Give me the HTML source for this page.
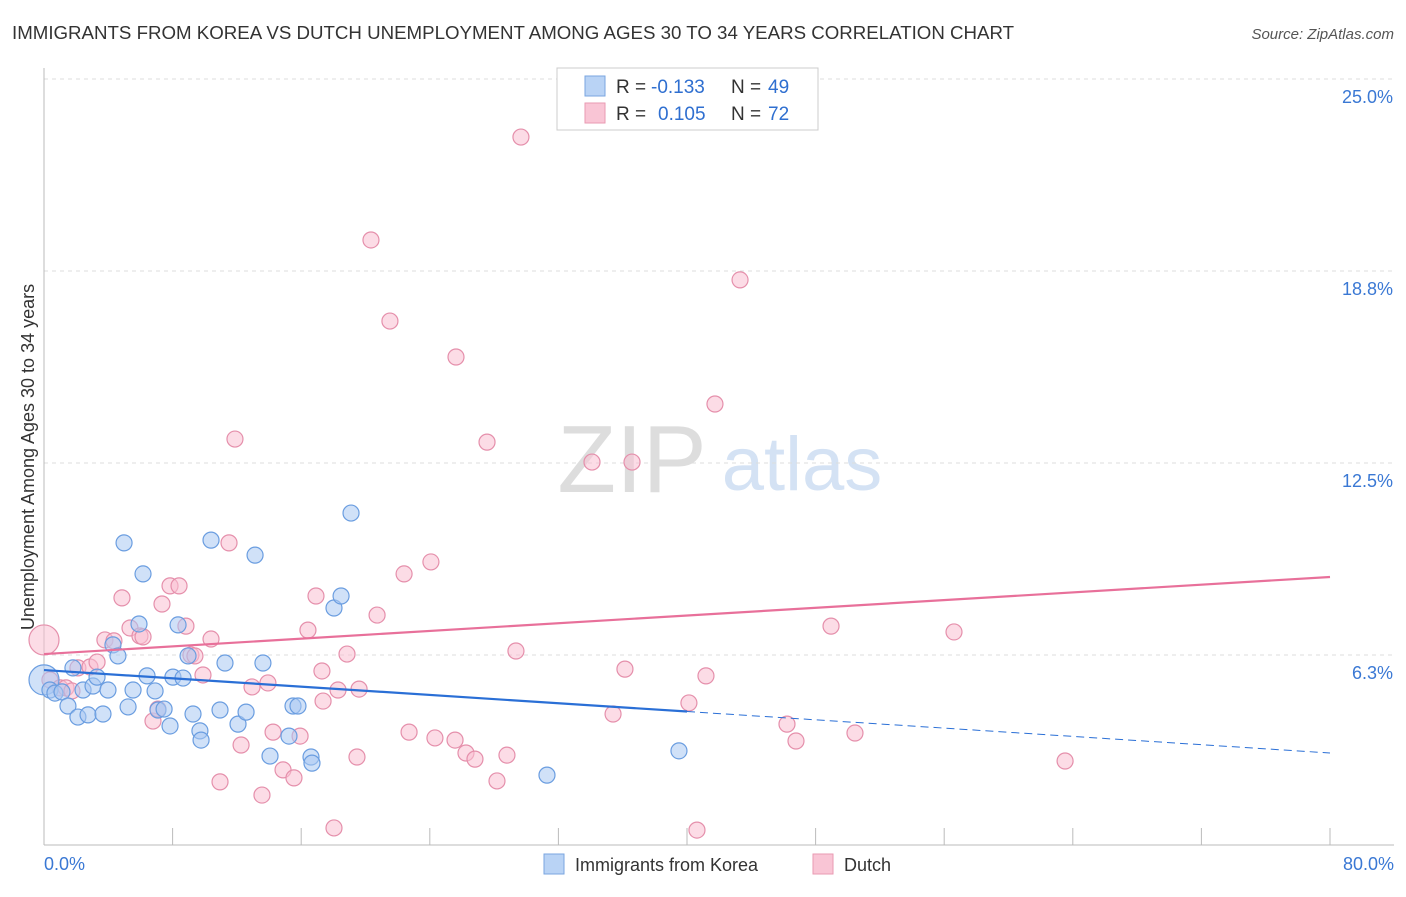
<!DOCTYPE html>
<html><head><meta charset="utf-8"><style>
body{margin:0;background:#fff;font-family:"Liberation Sans",sans-serif}
svg text{font-family:"Liberation Sans",sans-serif}
</style></head><body>
<svg id="chart" width="1406" height="892">
<text x="12" y="39" font-size="18.7" fill="#333">IMMIGRANTS FROM KOREA VS DUTCH UNEMPLOYMENT AMONG AGES 30 TO 34 YEARS CORRELATION CHART</text>
<text x="1394" y="39" font-size="15" fill="#555" font-style="italic" text-anchor="end">Source: ZipAtlas.com</text>
<text x="632" y="492" font-size="96" fill="#ddd" font-family="Liberation Serif" text-anchor="middle">ZIP</text>
<text x="802" y="490" font-size="76" fill="#d4e2f4" text-anchor="middle">atlas</text>
<text transform="translate(34,457) rotate(-90)" font-size="18" fill="#333" text-anchor="middle">Unemployment Among Ages 30 to 34 years</text>
<g id="grid"></g><g id="marks"></g>
<g>
<rect x="557" y="68" width="261" height="62" fill="#fff" stroke="#ccc"/>
<rect x="585" y="76" width="20" height="20" fill="#b9d3f5" stroke="#7aa6e0"/>
<rect x="585" y="103" width="20" height="20" fill="#f9c5d5" stroke="#e99ab2"/>
<text x="616" y="93" font-size="19" fill="#333">R =</text>
<text x="651" y="93" font-size="19" fill="#2f6fd0">-0.133</text>
<text x="731" y="93" font-size="19" fill="#333">N =</text>
<text x="768" y="93" font-size="19" fill="#2f6fd0">49</text>
<text x="616" y="120" font-size="19" fill="#333">R =</text>
<text x="658" y="120" font-size="19" fill="#2f6fd0">0.105</text>
<text x="731" y="120" font-size="19" fill="#333">N =</text>
<text x="768" y="120" font-size="19" fill="#2f6fd0">72</text>
</g>
<g>
<rect x="544" y="854" width="20" height="20" fill="#b9d3f5" stroke="#7aa6e0"/>
<text x="575" y="871" font-size="18" fill="#333">Immigrants from Korea</text>
<rect x="813" y="854" width="20" height="20" fill="#f9c5d5" stroke="#e99ab2"/>
<text x="844" y="871" font-size="18" fill="#333">Dutch</text>
</g>
</svg>
<script>
const yTicks=[6.25,12.5,18.75,25];
const yTickLabels=["6.3%","12.5%","18.8%","25.0%"];
const xTickLabels=["0.0%","80.0%"];
const koreaX=[0,0.37,0.68,1.12,1.49,1.8,2.11,2.43,2.74,3.05,3.3,3.67,3.98,4.29,4.6,4.98,5.23,5.54,5.91,6.16,6.41,6.91,7.09,7.47,7.84,8.02,8.34,8.65,8.96,9.27,9.7,9.77,10.39,10.95,11.26,12.07,12.57,13.13,13.62,14.06,15.24,15.49,15.8,16.61,16.67,18.04,18.48,19.1,31.29,39.5];
const koreaY=[5.44,5.11,5.01,5.05,4.59,5.83,4.23,5.11,4.3,5.24,5.53,4.33,5.11,6.58,6.22,9.9,4.56,5.11,7.26,8.89,5.57,5.08,4.46,4.49,3.94,5.53,7.23,5.5,6.22,4.33,3.78,3.48,9.99,4.46,5.99,4.0,4.39,9.5,5.99,2.96,3.61,4.59,4.59,2.93,2.73,7.78,8.17,10.87,2.34,3.13];
const dutchX=[0,0.37,1.0,1.37,1.74,2.11,2.86,3.3,3.79,4.35,4.85,5.35,5.97,6.16,6.78,7.09,7.34,7.84,8.4,8.83,9.14,9.39,9.89,10.39,10.95,11.51,11.88,12.26,12.94,13.56,13.93,14.25,14.87,15.55,15.93,16.42,16.92,17.29,17.36,18.04,18.29,18.85,19.47,19.6,20.34,20.72,21.52,22.4,22.71,24.07,24.32,25.57,25.63,26.25,26.81,27.56,28.18,28.8,29.36,29.67,34.09,35.4,36.14,36.58,40.12,40.62,41.18,41.74,43.3,46.22,46.78,48.96,50.45,56.61,63.52];
const dutchY=[6.74,5.44,5.18,5.18,5.08,5.83,5.86,6.02,6.74,6.71,8.11,7.13,6.87,6.84,4.1,4.49,7.91,8.5,8.5,7.19,6.25,6.22,5.6,6.77,2.12,9.9,13.28,3.32,5.21,1.69,5.34,3.74,2.51,2.25,3.61,7.06,8.17,5.73,4.75,0.62,5.11,6.28,2.93,5.14,19.76,7.55,17.12,8.89,3.74,9.28,3.55,3.48,15.95,3.06,2.86,13.18,2.15,2.99,6.38,23.11,12.53,4.33,5.79,12.53,4.69,0.55,5.57,14.42,18.46,4.0,3.45,7.19,3.71,7.0,2.8];
const koreaTrend=[5.76,3.06];
const dutchTrend=[6.28,8.79];
const koreaSolidEnd=40;

const X0=44,X1=1330,Y0=847,PPY=30.72;
const sx=v=>X0+(X1-X0)*v/80;
const sy=v=>Y0-v*PPY;
const NS="http://www.w3.org/2000/svg";
function mk(tag,attrs,parent){const e=document.createElementNS(NS,tag);for(const k in attrs)e.setAttribute(k,attrs[k]);parent.appendChild(e);return e;}
const grid=document.getElementById('grid'),marks=document.getElementById('marks');
yTicks.forEach((t,i)=>{
 const l=mk('line',{x1:X0,x2:X1+64,y1:sy(t),y2:sy(t),stroke:'#ddd','stroke-dasharray':'4,4'},grid);
 
 
 const tx=mk('text',{x:1393,y:sy(t)+24,'font-size':18,fill:'#3a78d4','text-anchor':'end'},grid);
 tx.textContent=yTickLabels[i];
 
 
});
const ax=mk('line',{x1:X0,x2:X1+64,y1:845,y2:845,stroke:'#bbb'},grid);


const ay=mk('line',{x1:X0,x2:X0,y1:68,y2:845,stroke:'#bbb'},grid);


for(let v=0;v<=80;v+=8){
 const t=mk('line',{x1:sx(v),x2:sx(v),y1:828,y2:845,stroke:'#bbb'},grid);
 
 
}
[[0,'start',44],[80,'end',1394]].forEach((a,i)=>{
 const tx=mk('text',{x:a[2],y:870,'font-size':18,fill:'#3a78d4','text-anchor':a[1]},grid);
 tx.textContent=xTickLabels[i];
 
 
});
function pts(xs,ys,fill,stroke,name){
 xs.forEach((x,i)=>{
  const c=mk('circle',{cx:sx(x),cy:sy(ys[i]),r:i===0?15:8,fill:fill,'fill-opacity':0.55,stroke:stroke,'stroke-width':1.2},marks);
  
  
 });
}
pts(dutchX,dutchY,'#f9c0d2','#e58fab','dutch-point');
pts(koreaX,koreaY,'#a9c8f2','#6a9de0','korea-point');
const kt=v=>koreaTrend[0]+(koreaTrend[1]-koreaTrend[0])*v/80;
let l1=mk('line',{x1:sx(0),y1:sy(kt(0)),x2:sx(koreaSolidEnd),y2:sy(kt(koreaSolidEnd)),stroke:'#2a6fd6','stroke-width':2.2},marks);


let l2=mk('line',{x1:sx(koreaSolidEnd),y1:sy(kt(koreaSolidEnd)),x2:sx(80),y2:sy(kt(80)),stroke:'#2a6fd6','stroke-width':1,'stroke-dasharray':'8,5'},marks);


let l3=mk('line',{x1:sx(0),y1:sy(dutchTrend[0]),x2:sx(80),y2:sy(dutchTrend[1]),stroke:'#e8709a','stroke-width':2.2},marks);


</script>
</body></html>
